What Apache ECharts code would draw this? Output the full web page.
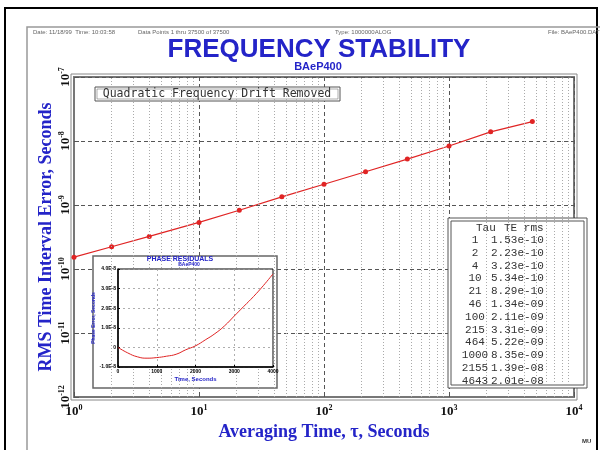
<!DOCTYPE html>
<html>
<head>
<meta charset="utf-8">
<script src="https://cdn.jsdelivr.net/npm/echarts@6/dist/echarts.min.js"></script>
<style>
  html, body { margin: 0; padding: 0; background: #fff; }
  #chart { width: 600px; height: 450px; }
</style>
</head>
<body>
<div id="chart"></div>
<script>
// averaging time (s) and rms time interval error (s)
const tau = [1, 2, 4, 10, 21, 46, 100, 215, 464, 1000, 2155, 4643];
const teRms = [1.53e-10, 2.23e-10, 3.23e-10, 5.34e-10, 8.29e-10, 1.34e-9, 2.11e-9, 3.31e-9, 5.22e-9, 8.35e-9, 1.39e-8, 2.01e-8];

// inset: phase residuals vs time
const residTime = [0, 250, 500, 750, 1000, 1250, 1500, 1750, 2000, 2250, 2500, 2750, 3000, 3250, 3500, 3750, 4000];
const residPhase = [0, -0.28e-8, -0.48e-8, -0.55e-8, -0.52e-8, -0.45e-8, -0.35e-8, -0.12e-8, 0.08e-8, 0.38e-8, 0.7e-8, 1.1e-8, 1.6e-8, 2.1e-8, 2.6e-8, 3.15e-8, 3.75e-8];

const headerTexts = ['Date: 11/18/99  Time: 10:03:58', 'Data Points 1 thru 37500 of 37500', 'Type: 1000000ALOG', 'File: BAeP400.DAT'];
const headerX = [33, 138, 335, 548];

const BLUE = '#2424c8';
const RED = '#e02424';

// minor grid lines at 2..9 of every decade
const xMinor = [];
for (let e = 0; e < 4; e++) for (let k = 2; k <= 9; k++) xMinor.push(k * Math.pow(10, e));
const yMinor = [];
for (let e = -12; e < -7; e++) for (let k = 2; k <= 9; k++) yMinor.push(k * Math.pow(10, e));

const fmtTE = v => {
  const parts = v.toExponential(2).split('e');
  return parts[0] + 'e-' + String(Math.abs(+parts[1])).padStart(2, '0');
};

const powLabel = v => '{b|10}{s|' + Math.round(Math.log10(v)) + '}';
const powRich = {
  b: { fontFamily: 'Liberation Serif', fontWeight: 'bold', fontSize: 13, color: '#111' },
  s: { fontFamily: 'Liberation Serif', fontWeight: 'bold', fontSize: 8, color: '#111', padding: [0, 0, 7, 0] }
};

const TFONT = '11px "Liberation Mono"';

// table inside the plot
const tableEls = [
  { type: 'rect', shape: { x: 448, y: 218, width: 139, height: 170 }, style: { fill: '#fff', stroke: '#555', lineWidth: 1 }, z: 5 },
  { type: 'rect', shape: { x: 451, y: 221, width: 133, height: 164 }, style: { fill: 'none', stroke: '#555', lineWidth: 1 }, z: 5 },
  { type: 'text', x: 476, y: 228, style: { text: 'Tau', font: TFONT, fill: '#333', textAlign: 'left', textVerticalAlign: 'middle' }, z: 6 },
  { type: 'text', x: 504, y: 228, style: { text: 'TE rms', font: TFONT, fill: '#333', textAlign: 'left', textVerticalAlign: 'middle' }, z: 6 }
];
tau.forEach((t, i) => {
  const y = 240 + i * 12.8;
  tableEls.push({ type: 'text', x: 475, y: y, style: { text: String(t), font: TFONT, fill: '#333', textAlign: 'center', textVerticalAlign: 'middle' }, z: 6 });
  tableEls.push({ type: 'text', x: 491, y: y, style: { text: fmtTE(teRms[i]), font: TFONT, fill: '#333', textAlign: 'left', textVerticalAlign: 'middle' }, z: 6 });
});

const chart = echarts.init(document.getElementById('chart'));

chart.setOption({
  animation: false,
  backgroundColor: '#fff',
  grid: [
    { left: 74, top: 77, width: 500, height: 320, show: true, borderColor: '#777', borderWidth: 2, backgroundColor: 'transparent' },
    { left: 118, top: 269, width: 155, height: 98, show: true, borderColor: '#000', borderWidth: 1, backgroundColor: '#fff', z: 6 }
  ],
  xAxis: [
    {
      type: 'log', logBase: 10, gridIndex: 0, min: 1, max: 10000,
      name: 'Averaging Time, \u03c4, Seconds', nameLocation: 'middle', nameGap: 26,
      nameTextStyle: { fontFamily: 'Liberation Serif', fontWeight: 'bold', fontSize: 18, color: BLUE },
      axisLine: { lineStyle: { color: '#777', width: 2 } },
      axisTick: { inside: true, length: 5, lineStyle: { color: '#555' } },
      axisLabel: { formatter: powLabel, rich: powRich, margin: 7 },
      splitLine: { show: true, lineStyle: { color: '#555', type: [4, 3], width: 1 } }
    },
    {
      type: 'value', gridIndex: 1, min: 0, max: 4000, interval: 1000, z: 10,
      name: 'Time, Seconds', nameLocation: 'middle', nameGap: 9,
      nameTextStyle: { fontFamily: 'Liberation Sans', fontWeight: 'bold', fontSize: 6, color: BLUE },
      axisLine: { onZero: false, lineStyle: { color: '#000', width: 1.5 } },
      axisTick: { inside: true, length: 2, lineStyle: { color: '#000' } },
      axisLabel: { fontSize: 5, fontWeight: 'bold', color: '#000', margin: 2, formatter: v => String(v) },
      splitLine: { show: true, lineStyle: { color: '#999', type: [2, 3], width: 0.8 } }
    }
  ],
  yAxis: [
    {
      type: 'log', logBase: 10, gridIndex: 0, min: 1e-12, max: 1e-7,
      name: 'RMS Time Interval Error, Seconds', nameLocation: 'middle', nameGap: 19, nameMoveOverlap: false,
      nameTextStyle: { fontFamily: 'Liberation Serif', fontWeight: 'bold', fontSize: 18, color: BLUE },
      axisLine: { lineStyle: { color: '#777', width: 2 } },
      axisTick: { inside: true, length: 5, lineStyle: { color: '#555' } },
      axisLabel: { formatter: powLabel, rich: powRich, rotate: 90, margin: 1 },
      splitLine: { show: true, lineStyle: { color: '#555', type: [4, 3], width: 1 } }
    },
    {
      type: 'value', gridIndex: 1, min: -1e-8, max: 4e-8, interval: 1e-8, z: 10,
      name: 'Phase Error, Seconds', nameLocation: 'middle', nameGap: 17, nameRotate: 90,
      nameTextStyle: { fontFamily: 'Liberation Sans', fontWeight: 'bold', fontSize: 5, color: BLUE },
      axisLine: { onZero: false, lineStyle: { color: '#000', width: 1.5 } },
      axisTick: { inside: true, length: 2, lineStyle: { color: '#000' } },
      axisLabel: {
        fontSize: 5, fontWeight: 'bold', color: '#000', margin: 2,
        formatter: v => Math.abs(v) < 1e-12 ? '0' : v.toExponential(1).toUpperCase()
      },
      splitLine: { show: true, lineStyle: { color: '#999', type: [2, 3], width: 0.8 } }
    }
  ],
  series: [
    {
      type: 'line', xAxisIndex: 0, yAxisIndex: 0, data: [], silent: true, z: 1,
      markLine: {
        silent: true, symbol: ['none', 'none'], label: { show: false },
        lineStyle: { color: '#aaa', type: [1, 2], width: 1 },
        emphasis: { disabled: true },
        data: xMinor.map(v => ({ xAxis: v })).concat(yMinor.map(v => ({ yAxis: v })))
      }
    },
    {
      type: 'line', xAxisIndex: 0, yAxisIndex: 0, z: 3,
      data: tau.map((t, i) => [t, teRms[i]]),
      symbol: 'circle', symbolSize: 5, showSymbol: true,
      itemStyle: { color: RED }, lineStyle: { color: RED, width: 1.2 }
    },
    {
      type: 'line', xAxisIndex: 1, yAxisIndex: 1, z: 12, smooth: true,
      data: residTime.map((t, i) => [t, residPhase[i]]),
      symbol: 'none', lineStyle: { color: RED, width: 1 }
    }
  ],
  graphic: {
    elements: [
      // page frames
      { type: 'polyline', shape: { points: [[5, 450], [5, 8], [597, 8], [597, 450]] }, style: { stroke: '#000', lineWidth: 2, fill: 'none' }, z: 0 },
      { type: 'polyline', shape: { points: [[27, 450], [27, 27], [600, 27]] }, style: { stroke: '#999', lineWidth: 1.5, fill: 'none' }, z: 0 },
      // double border around the plot
      { type: 'rect', shape: { x: 71, y: 74, width: 506, height: 326 }, style: { fill: 'none', stroke: '#888', lineWidth: 1 }, z: 0 },
      // header line
      ...headerTexts.map((t, i) => ({ type: 'text', x: headerX[i], y: 32, style: { text: t, font: '6px "Liberation Sans"', fill: '#666', textVerticalAlign: 'middle' }, z: 1 })),
      // titles
      { type: 'text', x: 319, y: 50, style: { text: 'FREQUENCY STABILITY', font: 'bold 26px "Liberation Sans"', fill: BLUE, textAlign: 'center', textVerticalAlign: 'middle' }, z: 1 },
      { type: 'text', x: 318, y: 67, style: { text: 'BAeP400', font: 'bold 11px "Liberation Sans"', fill: BLUE, textAlign: 'center', textVerticalAlign: 'middle' }, z: 1 },
      // note box
      { type: 'rect', shape: { x: 95, y: 87, width: 245, height: 14 }, style: { fill: '#fff', stroke: '#555', lineWidth: 1 }, z: 5 },
      { type: 'rect', shape: { x: 97, y: 89, width: 241, height: 10 }, style: { fill: 'none', stroke: '#777', lineWidth: 0.6 }, z: 5 },
      { type: 'text', x: 217, y: 94, style: { text: 'Quadratic Frequency Drift Removed', font: '11.5px "DejaVu Sans Mono"', fill: '#333', textAlign: 'center', textVerticalAlign: 'middle' }, z: 6 },
      // inset panel
      { type: 'rect', shape: { x: 93, y: 256, width: 184, height: 132 }, style: { fill: '#fff', stroke: '#666', lineWidth: 1.5 }, z: 5 },
      { type: 'text', x: 180, y: 259, style: { text: 'PHASE RESIDUALS', font: 'bold 7px "Liberation Sans"', fill: BLUE, textAlign: 'center', textVerticalAlign: 'middle' }, z: 6 },
      { type: 'text', x: 189, y: 265, style: { text: 'BAeP400', font: 'bold 5px "Liberation Sans"', fill: BLUE, textAlign: 'center', textVerticalAlign: 'middle' }, z: 6 },
      // stray label at the bottom right
      { type: 'text', x: 582, y: 441, style: { text: 'MU', font: 'bold 6px "Liberation Sans"', fill: '#333', textVerticalAlign: 'middle' }, z: 1 },
      ...tableEls
    ]
  }
});
</script>
</body>
</html>
